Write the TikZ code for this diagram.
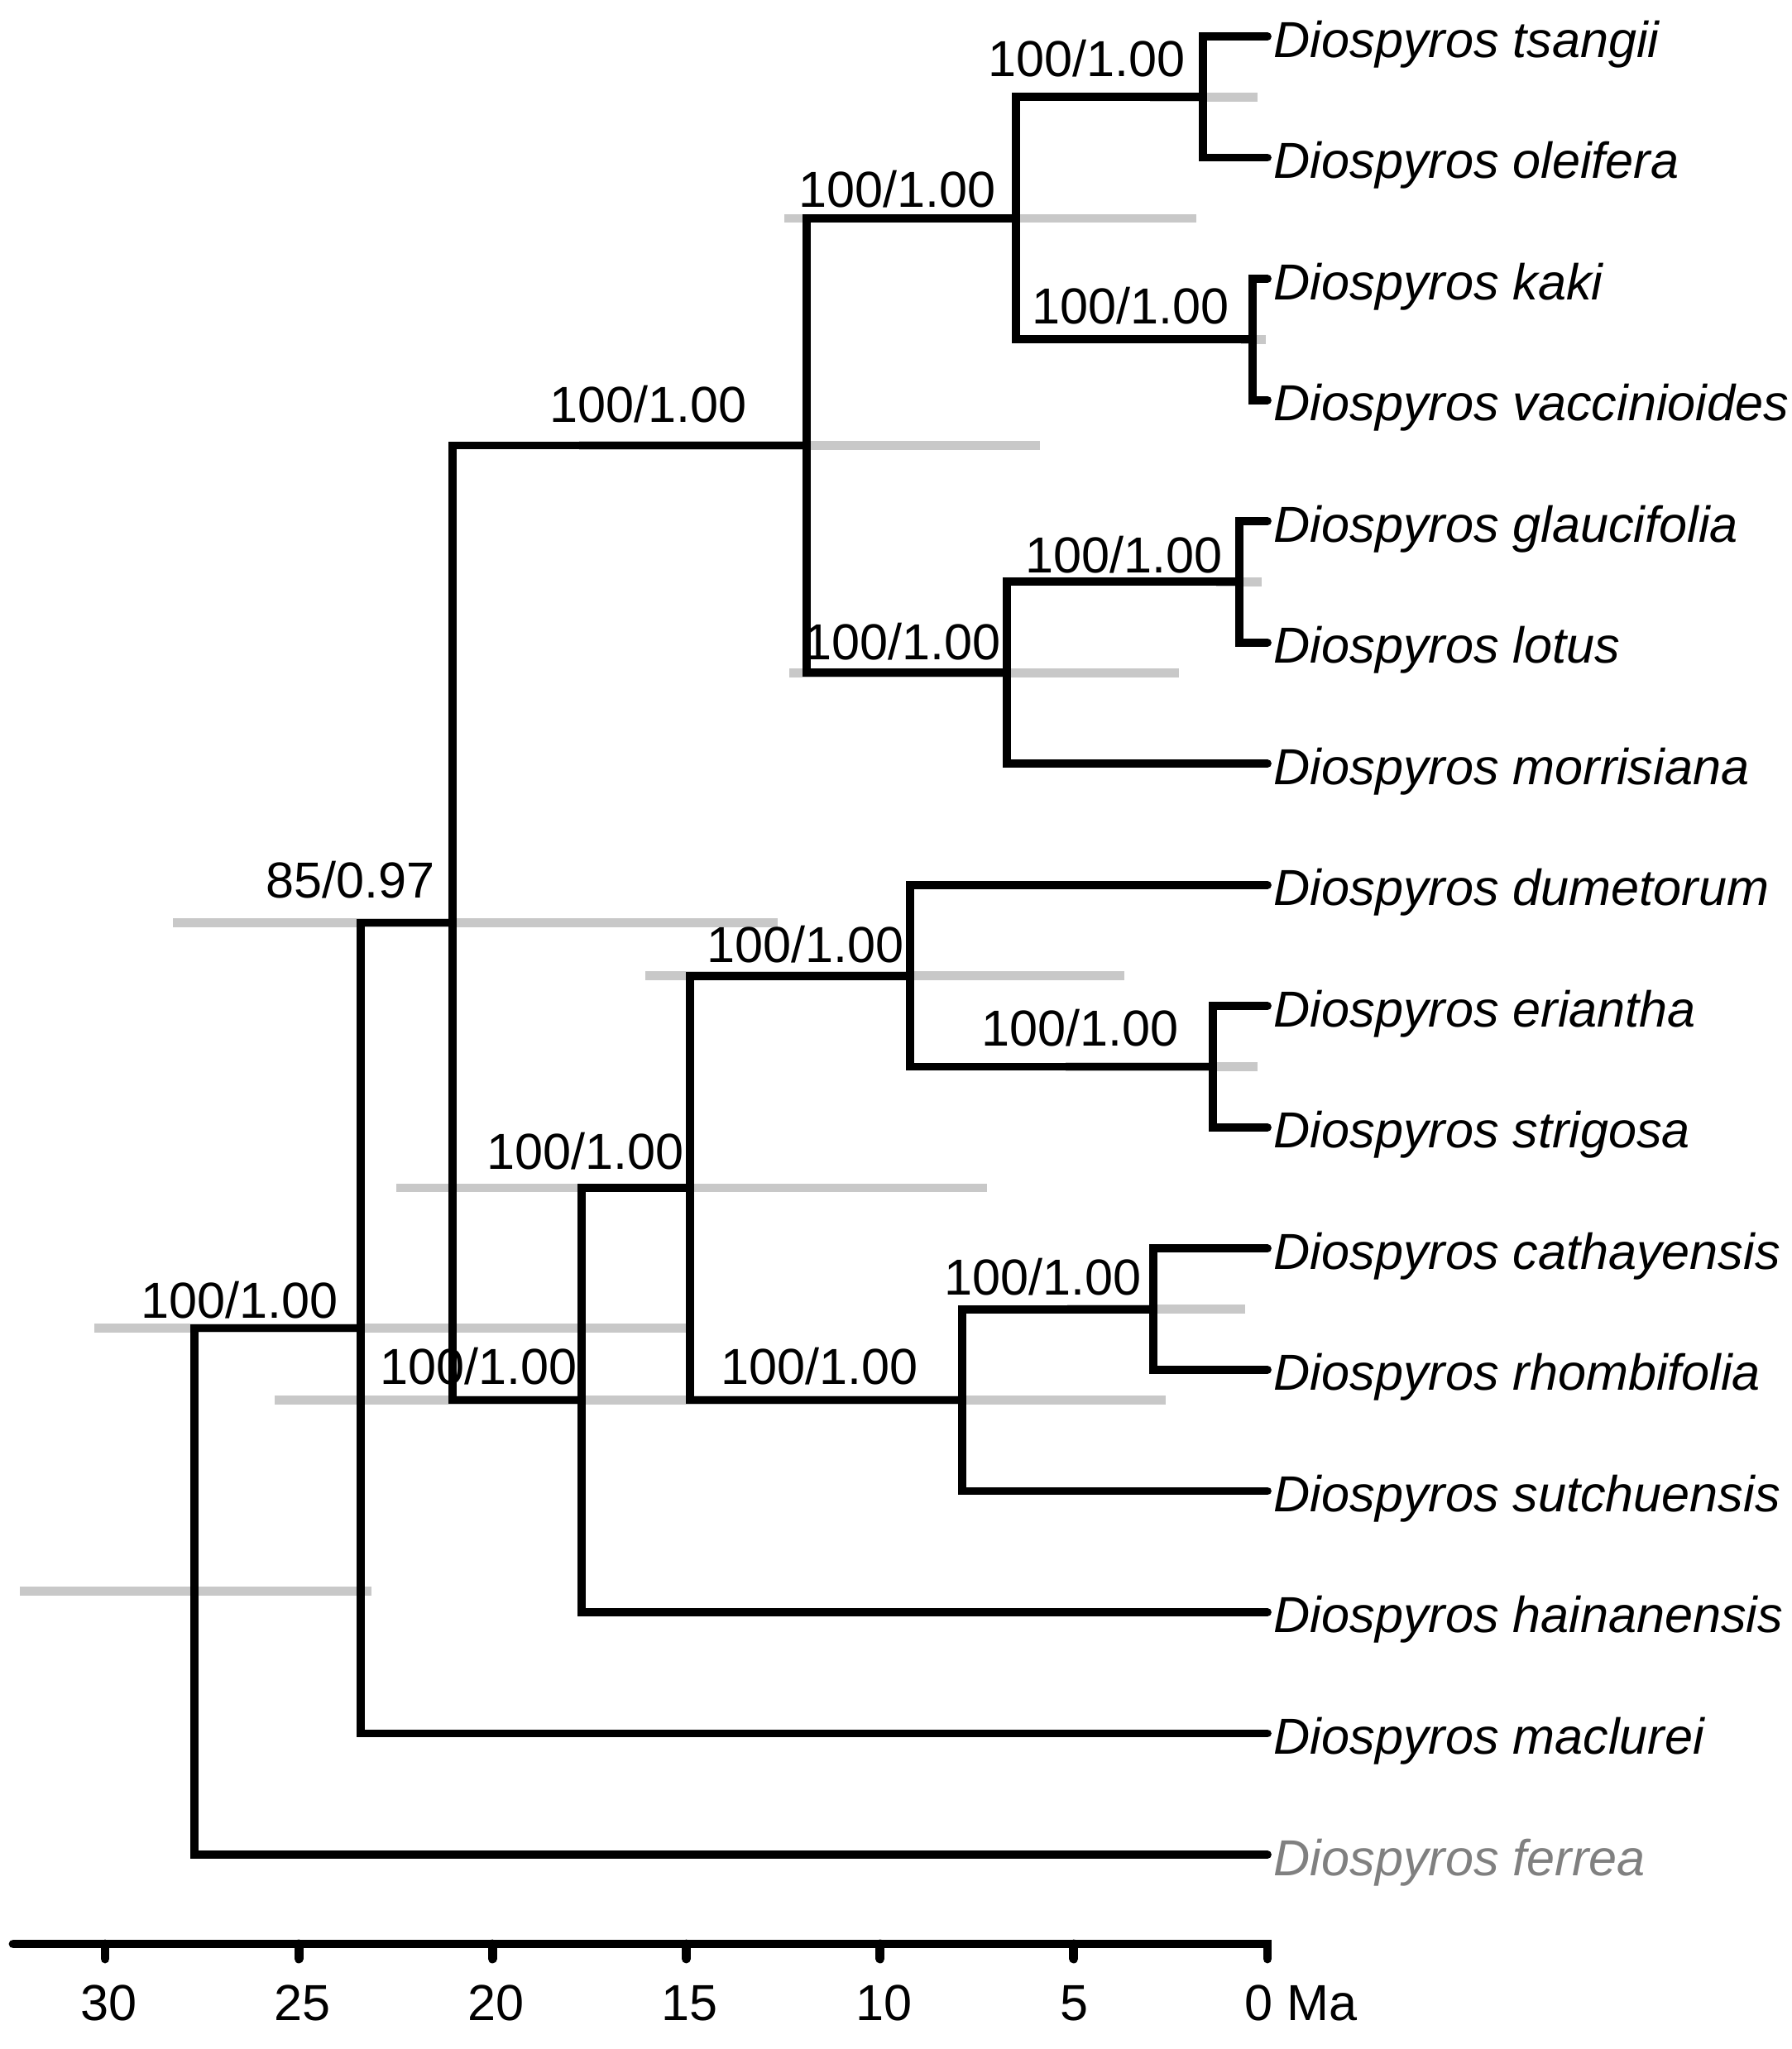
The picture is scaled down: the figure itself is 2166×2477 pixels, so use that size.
\documentclass[tikz,border=0pt]{standalone}
\usepackage{fontspec}
\setmainfont{Liberation Sans}
\definecolor{bargray}{RGB}{200,200,200}
\definecolor{outgray}{RGB}{128,128,128}
\begin{document}
\begin{tikzpicture}[x=0.01cm, y=-0.01cm,
  branch/.style={line width=2.8pt, line cap=round, line join=miter},
  hpd/.style={line width=3.0pt, bargray},
  axisline/.style={line width=3.1pt, line cap=round, line join=miter},
  supp/.style={anchor=base west, inner sep=0pt, font=\fontsize{17.4}{20}\selectfont},
  taxon/.style={anchor=base west, inner sep=0pt, font=\fontsize{17.4}{20}\selectfont\itshape},
  ticklab/.style={anchor=base, inner sep=0pt, font=\fontsize{17.4}{20}\selectfont}]
\useasboundingbox (0,0) rectangle (2166,2477);

% tips
\coordinate (tTsa) at (1532,44);
\coordinate (tOle) at (1532,190.5);
\coordinate (tKak) at (1532,337.1);
\coordinate (tVac) at (1532,483.6);
\coordinate (tGla) at (1532,630.1);
\coordinate (tLot) at (1532,776.7);
\coordinate (tMor) at (1532,923.2);
\coordinate (tDum) at (1532,1069.7);
\coordinate (tEri) at (1532,1216.2);
\coordinate (tStr) at (1532,1362.8);
\coordinate (tCat) at (1532,1509.3);
\coordinate (tRho) at (1532,1655.8);
\coordinate (tSut) at (1532,1802.4);
\coordinate (tHai) at (1532,1948.9);
\coordinate (tMac) at (1532,2095.4);
\coordinate (tFer) at (1532,2242);

% internal nodes
\coordinate (nTs) at (1454,117.25);
\coordinate (nKa) at (1514,410.35);
\coordinate (nT3) at (1228,263.8);
\coordinate (nGl) at (1498,703.4);
\coordinate (nGm) at (1217,813.3);
\coordinate (nA) at (975,538.55);
\coordinate (nEr) at (1466,1289.5);
\coordinate (nDu) at (1100,1179.6);
\coordinate (nCa) at (1394,1582.55);
\coordinate (nSu) at (1163,1692.5);
\coordinate (n15) at (834,1436.05);
\coordinate (nHa) at (703,1692.5);
\coordinate (nBig) at (547,1115.5);
\coordinate (n85) at (436,1605.45);
\coordinate (nRoot) at (235,1923.7);

% node age bars
\draw[hpd] (1390,117.25) -- (1520,117.25);
\draw[hpd] (948,263.8) -- (1446,263.8);
\draw[hpd] (1500,410.35) -- (1530,410.35);
\draw[hpd] (700,538.55) -- (1257,538.55);
\draw[hpd] (1470,703.4) -- (1525,703.4);
\draw[hpd] (954,813.3) -- (1425,813.3);
\draw[hpd] (209,1115.5) -- (940,1115.5);
\draw[hpd] (780,1179.6) -- (1359,1179.6);
\draw[hpd] (1288,1289.5) -- (1520,1289.5);
\draw[hpd] (479,1436.05) -- (1193,1436.05);
\draw[hpd] (1290,1582.55) -- (1505,1582.55);
\draw[hpd] (114,1605.45) -- (833,1605.45);
\draw[hpd] (332,1692.5) -- (1100,1692.5);
\draw[hpd] (900,1692.5) -- (1409,1692.5);
\draw[hpd] (24,1923.7) -- (449,1923.7);

% branches
\draw[branch] (tTsa) -| (nTs) |- (tOle);
\draw[branch] (tKak) -| (nKa) |- (tVac);
\draw[branch] (nTs) -| (nT3) |- (nKa);
\draw[branch] (tGla) -| (nGl) |- (tLot);
\draw[branch] (nGl) -| (nGm) |- (tMor);
\draw[branch] (nT3) -| (nA) |- (nGm);
\draw[branch] (tEri) -| (nEr) |- (tStr);
\draw[branch] (tDum) -| (nDu) |- (nEr);
\draw[branch] (tCat) -| (nCa) |- (tRho);
\draw[branch] (nCa) -| (nSu) |- (tSut);
\draw[branch] (nDu) -| (n15) |- (nSu);
\draw[branch] (n15) -| (nHa) |- (tHai);
\draw[branch] (nA) -| (nBig) |- (nHa);
\draw[branch] (nBig) -| (n85) |- (tMac);
\draw[branch] (n85) -| (nRoot) |- (tFer);

% support values
\node[supp] (sTs) at (1194,92) {100/1.00};
\node[supp] (sT3) at (965,250) {100/1.00};
\node[supp] (sKa) at (1247,391) {100/1.00};
\node[supp] (sA) at (664,510) {100/1.00};
\node[supp] (sGl) at (1239,692) {100/1.00};
\node[supp] (sGm) at (971,797) {100/1.00};
\node[supp] (sBig) at (321,1085) {85/0.97};
\node[supp] (sDu) at (854,1163) {100/1.00};
\node[supp] (sEr) at (1186,1264) {100/1.00};
\node[supp] (s15) at (588,1413) {100/1.00};
\node[supp] (sCa) at (1141,1565) {100/1.00};
\node[supp] (sSu) at (871,1673) {100/1.00};
\node[supp] (sHa) at (459,1673) {100/1.00};
\node[supp] (s85) at (170,1593) {100/1.00};

% taxon labels
\node[taxon] (lTsa) at (1539,69) {Diospyros tsangii};
\node[taxon] (lOle) at (1539,215.5) {Diospyros oleifera};
\node[taxon] (lKak) at (1539,362.1) {Diospyros kaki};
\node[taxon] (lVac) at (1539,508.6) {Diospyros vaccinioides};
\node[taxon] (lGla) at (1539,655.1) {Diospyros glaucifolia};
\node[taxon] (lLot) at (1539,801.7) {Diospyros lotus};
\node[taxon] (lMor) at (1539,948.2) {Diospyros morrisiana};
\node[taxon] (lDum) at (1539,1094.7) {Diospyros dumetorum};
\node[taxon] (lEri) at (1539,1241.2) {Diospyros eriantha};
\node[taxon] (lStr) at (1539,1387.8) {Diospyros strigosa};
\node[taxon] (lCat) at (1539,1534.3) {Diospyros cathayensis};
\node[taxon] (lRho) at (1539,1680.8) {Diospyros rhombifolia};
\node[taxon] (lSut) at (1539,1827.4) {Diospyros sutchuensis};
\node[taxon] (lHai) at (1539,1973.9) {Diospyros hainanensis};
\node[taxon] (lMac) at (1539,2120.4) {Diospyros maclurei};
\node[taxon, text=outgray] (lFer) at (1539,2267) {Diospyros ferrea};

% time axis
\draw[axisline] (16,2350) -- (1532,2350) -- (1532,2368);
\foreach \xx in {127,361.2,595.3,829.5,1063.7,1297.8}
  \draw[axisline] (\xx,2350) -- (\xx,2368);
\node[ticklab] (a30) at (132,2442) {30};
\node[ticklab] (a25) at (366,2442) {25};
\node[ticklab] (a20) at (600,2442) {20};
\node[ticklab] (a15) at (834,2442) {15};
\node[ticklab] (a10) at (1069,2442) {10};
\node[ticklab] (a5) at (1299,2442) {5};
\node[ticklab, anchor=base west] (a0) at (1504,2442) {0 Ma};
\end{tikzpicture}
\end{document}
